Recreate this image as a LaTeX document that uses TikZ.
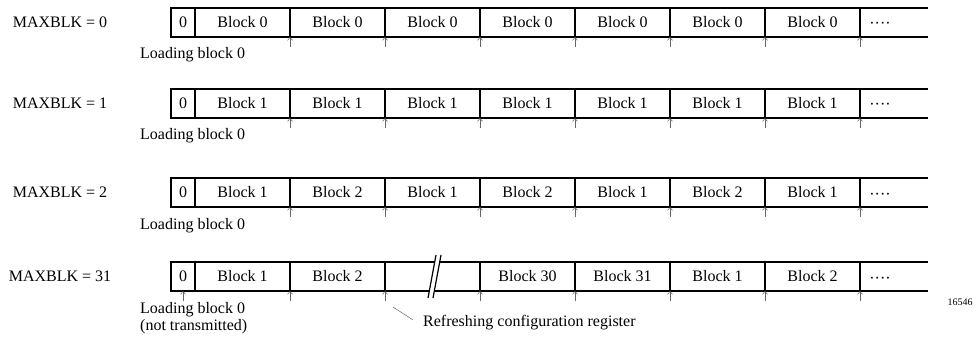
\documentclass[tikz,border=0pt]{standalone}
\usepackage{fontspec}
\setmainfont{Liberation Serif}
\usetikzlibrary{arrows.meta}
\tikzset{%
    Trame line/.style={%
        line width=1.2pt
    },
    Trame text/.style={%
        inner sep=0pt,
        font=\fontsize{16}{19}\selectfont
    },
    Trame arrow/.style={%
        -{Straight Barb[length=3pt,width=5pt]},
        line width=.5pt,
        black!60
    }
}
\NewDocumentCommand{\Trame}{%
    m   % nom de la trame
    m   % ordonnee du haut
    m   % valeur de MAXBLK
    m   % liste des blocs
    }{%
    \coordinate (#1-nw) at (171,#2) ;
    \coordinate (#1-sw) at (171,#2+29) ;
    \coordinate (#1-ne) at (928,#2) ;
    \coordinate (#1-se) at (928,#2+29) ;

    \node[Trame text] (#1-max) at (60,#2+14.5) {MAXBLK = #3} ;

    \draw[Trame line] (#1-ne) -- (#1-nw) -- (#1-sw) -- (#1-se) ;
    \draw[Trame line] (195,#2) -- (195,#2+29) ;
    \node[Trame text] (#1-0) at (183,#2+14.5) {0} ;

    \foreach \b [count=\i] in {#4} {%
        \pgfmathsetmacro{\x}{195+95*\i}
        \draw[Trame line] (\x,#2) coordinate (#1-t\i)
            -- (\x,#2+29) coordinate (#1-b\i) ;
        \node[Trame text] (#1-\i) at (\x-47.5,#2+14.5) {\b} ;
        \coordinate (#1-f\i) at (\x,#2+39) ;
        \draw[Trame arrow] (#1-f\i) -- (#1-b\i) ;
    }
    \node[Trame text,anchor=base] (#1-dots) at (880,#2+21) {····} ;

    \node[Trame text,anchor=base west] (#1-load) at (140,#2+51)
        {Loading block 0} ;
}

\begin{document}
\begin{tikzpicture}[x=1pt,y=-1pt]
\useasboundingbox (0,0) rectangle (976,339) ;

\Trame{t1}{8}{0}{Block 0,Block 0,Block 0,Block 0,Block 0,Block 0,Block 0}
\Trame{t2}{89}{1}{Block 1,Block 1,Block 1,Block 1,Block 1,Block 1,Block 1}
\Trame{t3}{178}{2}{Block 1,Block 2,Block 1,Block 2,Block 1,Block 2,Block 1}
\Trame{t4}{262}{31}{Block 1,Block 2,,Block 30,Block 31,Block 1,Block 2}

% bloc 0 non transmis
\node[Trame text,anchor=base west] (t4-not) at (140,330) {(not transmitted)} ;
\coordinate (t4-f0) at (183,301) ;
\coordinate (t4-b0) at (183,291) ;
\draw[Trame arrow] (t4-f0) -- (t4-b0) ;

% coupure
\coordinate (cut-a) at (428,298) ;
\coordinate (cut-b) at (436,255) ;
\coordinate (cut-c) at (441,255) ;
\coordinate (cut-d) at (433,298) ;
\fill[white] (cut-a) -- (cut-b) -- (cut-c) -- (cut-d) -- cycle ;
\draw[Trame line] (cut-a) -- (cut-b) ;
\draw[Trame line] (cut-d) -- (cut-c) ;

% registre de configuration
\node[Trame text,anchor=base west] (refresh) at (423,326)
    {Refreshing configuration register} ;
\coordinate (refresh-a) at (393,307) ;
\coordinate (refresh-b) at (413,320) ;
\draw[line width=.5pt,black!60] (refresh-a) -- (refresh-b) ;

\node[inner sep=0pt,font=\fontsize{10}{12}\selectfont] (fig) at (960,302) {16546} ;

\end{tikzpicture}
\end{document}
